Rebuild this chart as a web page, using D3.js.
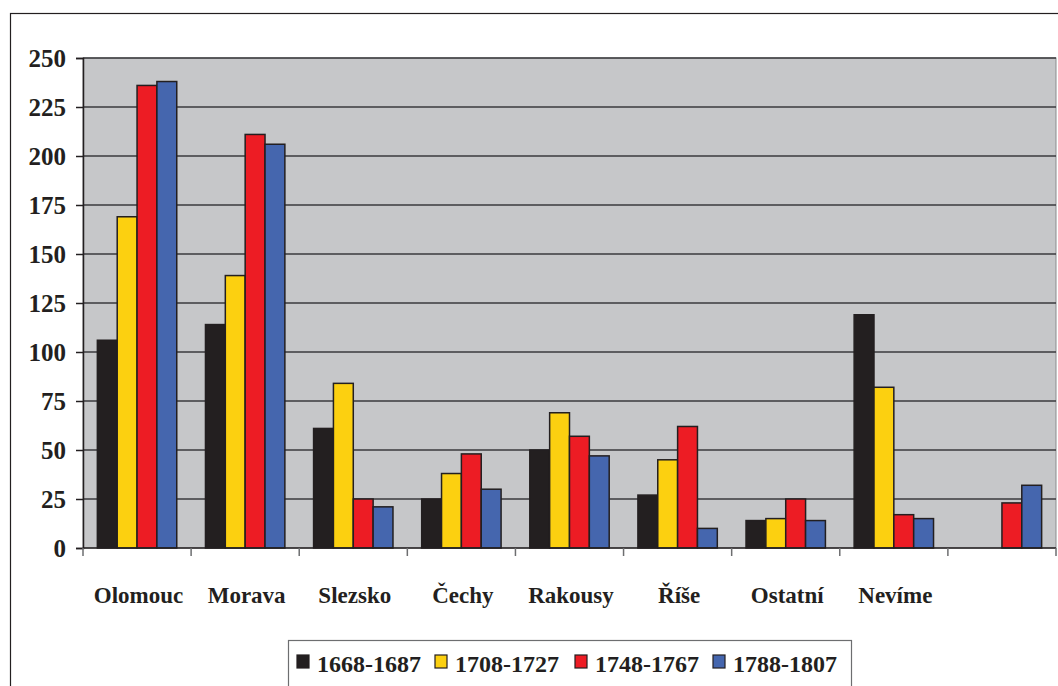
<!DOCTYPE html>
<html><head><meta charset="utf-8">
<script src="https://cdn.jsdelivr.net/npm/d3@7"></script>
</head><body style="margin:0">
<svg id="chart" width="1058" height="686" style="display:block"></svg>
<script>
const categories = ["Olomouc","Morava","Slezsko","Čechy","Rakousy","Říše","Ostatní","Nevíme",""];
const seriesNames = ["1668-1687","1708-1727","1748-1767","1788-1807"];
const s1668 = [106,114,61,25,50,27,14,119,0];
const s1708 = [169,139,84,38,69,45,15,82,0];
const s1748 = [236,211,25,48,57,62,25,17,23];
const s1788 = [238,206,21,30,47,10,14,15,32];
const yTicks = [0,25,50,75,100,125,150,175,200,225,250];
const colors = ["#231f20","#fcd010","#ed1c24","#4566ae"];

const series = [s1668,s1708,s1748,s1788];
const svg = d3.select("#chart");
const pL = 83, pR = 1056, pT = 58, pB = 548;

// outer frame
svg.append("rect").attr("x",10.5).attr("y",13.5).attr("width",1200).attr("height",800)
  .attr("fill","none").attr("stroke","#231f20").attr("stroke-width",1.2);

const x = d3.scaleBand().domain(categories.map((c,i)=>i)).range([pL,pR]).padding(0);
const y = d3.scaleLinear().domain([0,250]).range([pB,pT]);
const bw = x.bandwidth();
const barW = bw*0.1836;
const groupOff = (bw - 4*barW)/2;
const inner = d3.scaleBand().domain(d3.range(4)).range([groupOff, groupOff+4*barW]).padding(0);

// plot background
svg.append("rect").attr("x",pL).attr("y",pT).attr("width",pR-pL).attr("height",pB-pT)
  .attr("fill","#c6c7c9").attr("stroke","#8a8b8d").attr("stroke-width",1);

// gridlines
svg.append("g").selectAll("line").data(yTicks.filter(t=>t>0)).join("line")
  .attr("x1",pL).attr("x2",pR).attr("y1",d=>y(d)).attr("y2",d=>y(d))
  .attr("stroke","#3a3a3c").attr("stroke-width",1.5);

// bars
const barsG = svg.append("g");
series.forEach((vals,si)=>{
  barsG.append("g").selectAll("rect").data(vals.map((v,i)=>({v,i})).filter(d=>d.v>0)).join("rect")
    .attr("x",d=>x(d.i)+inner(si))
    .attr("y",d=>y(d.v))
    .attr("width",inner.bandwidth())
    .attr("height",d=>y(0)-y(d.v))
    .attr("fill",colors[si])
    .attr("stroke","#231f20").attr("stroke-width",1.5);
});

// y axis (domain + ticks via d3 axis, labels drawn as own text)
const yAxis = d3.axisLeft(y).tickValues(yTicks).tickSize(7).tickFormat("");
const ya = svg.append("g").attr("transform",`translate(${pL},0)`).call(yAxis);
ya.select(".domain").attr("stroke","#231f20").attr("stroke-width",1.5);
ya.selectAll(".tick line").attr("stroke","#231f20").attr("stroke-width",1.5);
ya.selectAll(".tick text").remove();
svg.selectAll("text.ylab").data(yTicks).join("text").attr("class","ylab")
  .attr("x",66).attr("y",d=>y(d)+8.5).attr("text-anchor","end")
  .style("font-family","Liberation Serif").style("font-weight","bold").style("font-size","25px").style("fill","#231f20")
  .text(d=>d);

// x axis
svg.append("line").attr("x1",pL).attr("x2",pR).attr("y1",pB).attr("y2",pB)
  .attr("stroke","#231f20").attr("stroke-width",1.5);
svg.append("g").selectAll("line").data(d3.range(categories.length+1)).join("line")
  .attr("x1",d=>pL+d*bw).attr("x2",d=>pL+d*bw).attr("y1",pB).attr("y2",pB+8)
  .attr("stroke","#6d6e70").attr("stroke-width",1.5);
svg.selectAll("text.xlab").data(categories).join("text").attr("class","xlab")
  .attr("x",(d,i)=>x(i)+bw/2+1.5).attr("y",603).attr("text-anchor","middle")
  .style("font-family","Liberation Serif").style("font-weight","bold").style("font-size","23px").style("fill","#231f20")
  .text(d=>d);

// legend
svg.append("rect").attr("x",288.5).attr("y",640.5).attr("width",563).attr("height",70)
  .attr("fill","#fff").attr("stroke","#6d6e70").attr("stroke-width",1.2);
const legX = [297,435,575,713];
svg.selectAll("rect.lsw").data(seriesNames).join("rect").attr("class","lsw")
  .attr("x",(d,i)=>legX[i]).attr("y",655).attr("width",12).attr("height",13)
  .attr("fill",(d,i)=>colors[i]).attr("stroke","#231f20").attr("stroke-width",1.2);
svg.selectAll("text.ltx").data(seriesNames).join("text").attr("class","ltx")
  .attr("x",(d,i)=>legX[i]+20).attr("y",672)
  .style("font-family","Liberation Serif").style("font-weight","bold").style("font-size","24px").style("fill","#231f20")
  .text(d=>d);
</script>
</body></html>
